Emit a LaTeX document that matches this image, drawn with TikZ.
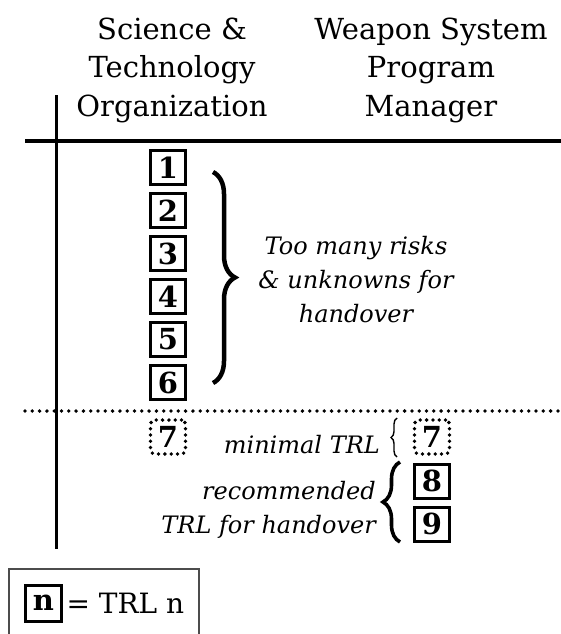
\documentclass[tikz,border=0pt]{standalone}
\usepackage{fontspec}
\setmainfont{DejaVu Serif}
\usetikzlibrary{decorations.pathreplacing}

\tikzset{
  head/.style={align=center, inner sep=0pt, font=\fontsize{29}{38.5}\selectfont},
  note/.style={inner sep=0pt, font=\fontsize{24}{34}\selectfont\itshape},
  trlbox/.style={draw, line width=3pt, minimum width=35pt, minimum height=34pt, inner sep=0pt, font=\fontsize{29}{29}\selectfont\bfseries},
  trldots/.style={trlbox, line width=3.8pt, dash pattern=on 0pt off 6.3pt, line cap=round, rounded corners=4pt},
  dotline/.style={line width=3.8pt, dash pattern=on 0pt off 7.3pt, line cap=round},
  bigbrace/.style={decorate, decoration={brace, amplitude=#1}},
}

\begin{document}
\begin{tikzpicture}[x=1pt, y=-1pt]
  \useasboundingbox (0,0) rectangle (561,634);
  % column heads
  \node[head] (sto) at (172,70) {Science \&\\Technology\\Organization};
  \node[head] (wspm) at (431,70) {Weapon System\\Program\\Manager};
  \draw[line width=3pt] (56,95) -- (56,549);
  \draw[line width=3.6pt] (25,141) -- (561,141);

  % levels that stay with the lab
  \foreach \n in {1,...,6} { \node[trlbox] (b\n) at (168,124.5+43*\n) {\n}; }
  \draw[bigbrace=22pt, line width=4.5pt] (213,172) -- (213,383);
  \node[note, align=center] (risks) at (356,280) {Too many risks\\\& unknowns for\\handover};

  % handover zone
  \draw[dotline] (25,411) -- (561,411);
  \node[trldots] (s7) at (168,437) {7};
  \node[trldots] (w7) at (432,437) {7};
  \node[trlbox] (w8) at (432,481) {8};
  \node[trlbox] (w9) at (432,524) {9};
  \node[note, anchor=base east] (minimal) at (380,453) {minimal TRL};
  \draw[bigbrace=6pt, line width=1.4pt] (397,457) -- (397,418);
  \draw[bigbrace=17pt, line width=3.6pt] (400,542) -- (400,462);
  \node[note, align=right, anchor=east] (recom) at (376,510) {recommended\\TRL for handover};

  % key
  \node[draw=gray!60!black, line width=1.8pt, minimum width=190pt, minimum height=100pt, anchor=north west] (legend) at (8,568) {};
  \node[trlbox, minimum width=36pt, minimum height=36pt] (key) at (43.5,603) {n};
  \node[anchor=west, font=\fontsize{28}{28}\selectfont] (keytext) at (key.east) {= TRL n};
\end{tikzpicture}
\end{document}
